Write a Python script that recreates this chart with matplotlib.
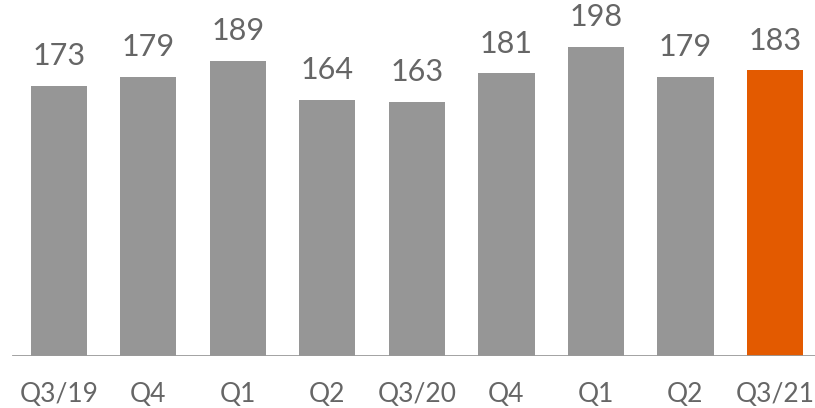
import matplotlib
matplotlib.use('Agg')
import matplotlib.pyplot as plt

labels = ['Q3/19', 'Q4', 'Q1', 'Q2', 'Q3/20', 'Q4', 'Q1', 'Q2', 'Q3/21']
values = [173, 179, 189, 164, 163, 181, 198, 179, 183]
colors = ['#969696'] * 8 + ['#E35A00']

plt.rcParams['font.family'] = ['Lato', 'DejaVu Sans']

fig = plt.figure(figsize=(8.15, 4.08), dpi=100)
ax = fig.add_axes([0, 0.127, 1, 0.873])

x = range(len(values))
bars = ax.bar(x, values, width=0.626, color=colors, zorder=2)

for xi, v in zip(x, values):
    ax.text(xi, v + 10, str(v), ha='center', va='bottom',
            fontsize=22, color='#666666')

ax.set_xlim(-0.659, 8.447)
ax.set_ylim(0, 228)
ax.axhline(0, xmin=0.016, xmax=1, color='#999999', lw=2, zorder=3)

for s in ax.spines.values():
    s.set_visible(False)
ax.set_yticks([])
ax.set_xticks(list(x))
ax.set_xticklabels(labels, fontsize=19, color='#666666')
ax.tick_params(axis='x', length=0, pad=18.5)

fig.savefig('out.png', dpi=100)
